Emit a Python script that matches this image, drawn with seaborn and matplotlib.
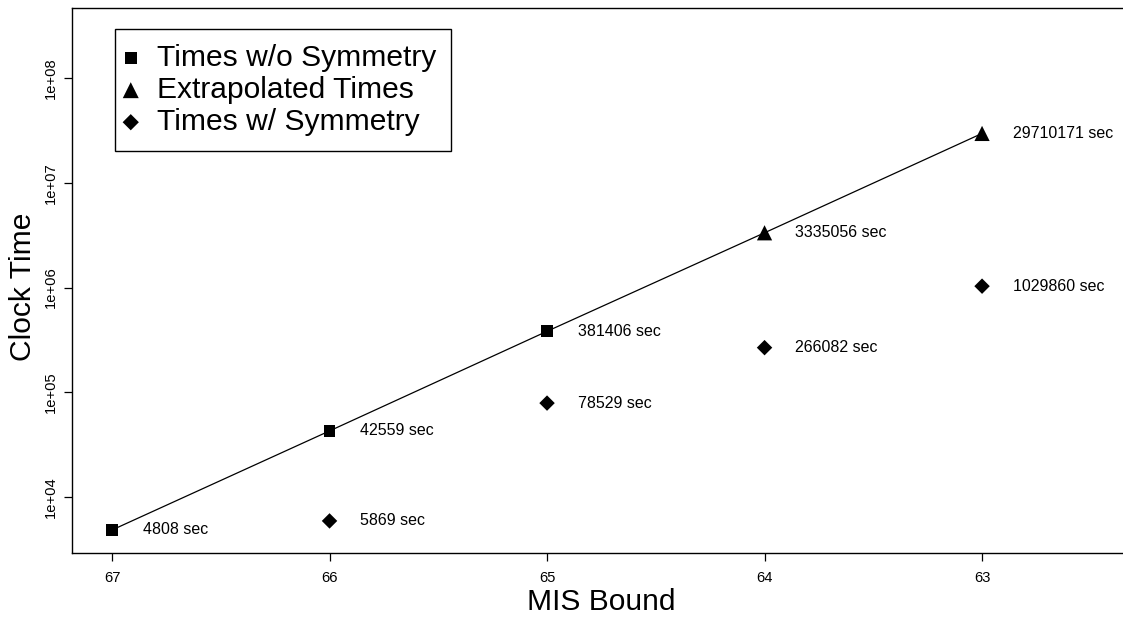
import numpy as np
import pandas as pd
import matplotlib
matplotlib.use("Agg")
import matplotlib.pyplot as plt
import seaborn as sns
from matplotlib.ticker import FixedLocator, FixedFormatter

# Data
bound_nosym = [67, 66, 65]
time_nosym = [4808, 42559, 381406]
bound_extra = [64, 63]
time_extra = [3335056, 29710171]
bound_sym = [66, 65, 64, 63]
time_sym = [5869, 78529, 266082, 1029860]

x_ticks = [67, 66, 65, 64, 63]
y_ticks = [1e4, 1e5, 1e6, 1e7, 1e8]
y_tick_labels = ["1e+04", "1e+05", "1e+06", "1e+07", "1e+08"]

sns.set_style("ticks")
plt.rcParams["font.family"] = ["Liberation Sans", "DejaVu Sans"]
plt.rcParams["text.color"] = "black"
plt.rcParams["axes.labelcolor"] = "black"

df_line = pd.DataFrame({
    "bound": bound_nosym + bound_extra,
    "time": time_nosym + time_extra,
})
df_nosym = pd.DataFrame({"bound": bound_nosym, "time": time_nosym})
df_extra = pd.DataFrame({"bound": bound_extra, "time": time_extra})
df_sym = pd.DataFrame({"bound": bound_sym, "time": time_sym})

fig = plt.figure(figsize=(11.23, 6.18), dpi=100)
ax = fig.add_axes([72 / 1123, 1 - 553 / 618, 1 - 72 / 1123, (553 - 8) / 618])

sns.lineplot(data=df_line, x="bound", y="time", ax=ax, color="black",
             linewidth=0.9, sort=False, estimator=None)
sns.scatterplot(data=df_nosym, x="bound", y="time", ax=ax, marker="s",
                s=70, color="black", edgecolor="none", zorder=3,
                label="Times w/o Symmetry")
sns.scatterplot(data=df_extra, x="bound", y="time", ax=ax, marker="^",
                s=120, color="black", edgecolor="none", zorder=3,
                label="Extrapolated Times")
sns.scatterplot(data=df_sym, x="bound", y="time", ax=ax, marker="D",
                s=62, color="black", edgecolor="none", zorder=3,
                label="Times w/ Symmetry")

ax.set_yscale("log")
ax.set_xlim(67.184, 62.352)
ax.set_ylim(10 ** 3.462, 10 ** 8.672)

# value labels next to each point
for xs, ys in [(bound_nosym, time_nosym), (bound_extra, time_extra),
               (bound_sym, time_sym)]:
    for xv, yv in zip(xs, ys):
        ax.annotate(f"{yv} sec", (xv, yv), xytext=(22, 0),
                    textcoords="offset points", va="center", ha="left",
                    fontsize=11.5, color="black")

ax.xaxis.set_major_locator(FixedLocator(x_ticks))
ax.xaxis.set_major_formatter(FixedFormatter([str(v) for v in x_ticks]))
ax.yaxis.set_major_locator(FixedLocator(y_ticks))
ax.yaxis.set_major_formatter(FixedFormatter(y_tick_labels))
ax.yaxis.set_minor_locator(FixedLocator([]))
ax.tick_params(axis="both", which="major", length=5.5, width=0.9,
               labelsize=10.6, color="black", labelcolor="black")
ax.tick_params(axis="x", pad=7.5)
ax.tick_params(axis="y", pad=5, labelrotation=90)
for lab in ax.get_yticklabels():
    lab.set_va("center")

for side in ["left", "bottom", "top"]:
    ax.spines[side].set_visible(True)
    ax.spines[side].set_color("black")
    ax.spines[side].set_linewidth(1.0)
ax.spines["right"].set_visible(False)

ax.set_xlabel("MIS Bound", fontsize=21.6, color="black")
ax.set_ylabel("Clock Time", fontsize=21.6, color="black")
ax.xaxis.set_label_coords(0.504, -0.065)
ax.yaxis.set_label_coords(-0.033, 0.488)

leg = ax.legend(loc="upper left", bbox_to_anchor=((115 - 72) / 1051, (553 - 29) / 545),
                borderaxespad=0, fontsize=21.6, frameon=True, fancybox=False,
                framealpha=1, edgecolor="black", handlelength=0.05,
                handletextpad=0.85, borderpad=0.5, labelspacing=0.135,
                markerscale=1.05)
leg.get_frame().set_linewidth(1.0)

fig.savefig("out.png", dpi=100)
